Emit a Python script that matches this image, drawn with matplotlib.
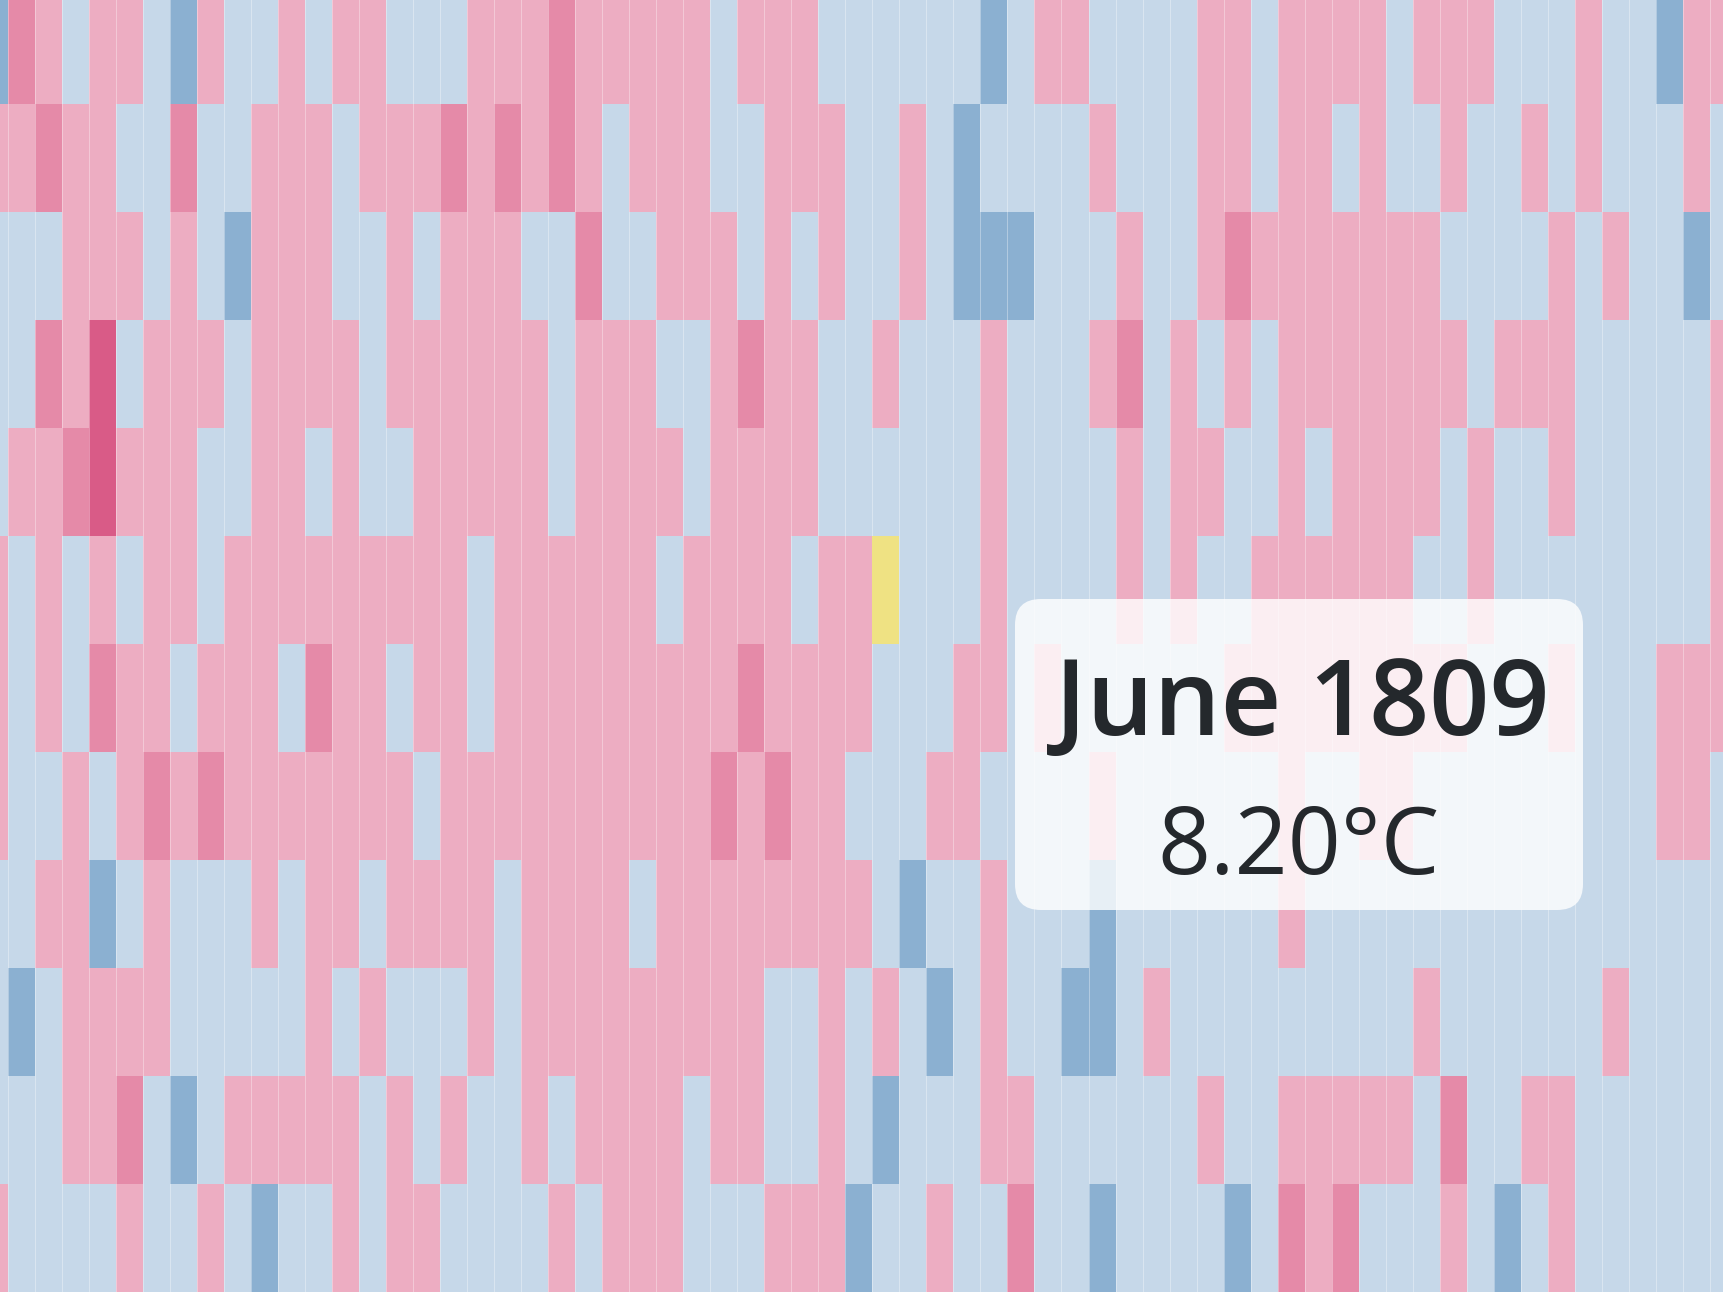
import numpy as np
import matplotlib
matplotlib.use("Agg")
import matplotlib.pyplot as plt
from matplotlib.colors import ListedColormap, BoundaryNorm
from matplotlib.patches import FancyBboxPatch, Rectangle

# ---------------- data ----------------
years = list(range(1776, 1841))          # visible columns (first/last partially cut)
months = ["January", "February", "March", "April", "May", "June",
          "July", "August", "September", "October", "November", "December"]

# anomaly class per year (B = much colder, b = colder, p = warmer, P = much warmer, D = extreme warm)
jan = "B" + "PpbppbBpbb" + "pbppbbbppp" + "Ppppppbppp" + "bb" + "bbbbBbppbb" + "bbppbppppb" + "pppbbbpbbB" + "pp"
feb = "p" + "pPppbbPbbp" + "ppbpppPpPp" + "Ppbpppbbpp" + "pb" + "bpbBbbbbpb" + "bbppbppbpb" + "bpbbpbpbbb" + "pb"
mar = "b" + "bbpppbpbBp" + "ppbbpbpppb" + "bPbbpppbpb" + "pb" + "bpbBBBbbbp" + "bbpPpppppp" + "pbbbbpbpbb" + "Bb"
apr = "b" + "bPpDbpppbp" + "pppbpppppp" + "bpppbbpPpp" + "bb" + "pbbbpbbbpP" + "bpbpbppppp" + "ppbpppbbbb" + "bp"
may = "b" + "ppPDpppbbp" + "pbpbbppppp" + "bppppbpppp" + "bb" + "bbbbpbbbbp" + "bppbbpbppp" + "pbpbbpbbbb" + "bp"
jun = "p" + "bpbpbppbpp" + "pppppppbpp" + "ppppbppppb" + "pp" + "bbbbpbbbbp" + "bpbbpppppp" + "bbpbbbbbbb" + "bp"
jul = "p" + "bpbPppbppp" + "bPppbppbpp" + "pppppppPpp" + "pp" + "bbbppbpbbb" + "bbbppppppp" + "ppbbbpbbbp" + "pp"
aug = "p" + "bbpbpPpPpp" + "pppppbpppp" + "ppppppPpPp" + "pb" + "bbppbbbbpb" + "bbbbbpbbpp" + "bbbbbbbbbp" + "pb"
sep = "b" + "bppBbpbbbp" + "bppbppppbp" + "pppbpppppp" + "pp" + "bBbbpbbbBb" + "bbbbbpbbbb" + "bbbbbbbbbb" + "bb"
oct_ = "b" + "Bbppppbbbb" + "bpbpbbbpbp" + "ppppppppbb" + "pb" + "pbBbpbbBBb" + "pbbbbbbbbb" + "pbbbbbbpbb" + "bb"
nov = "b" + "bbppPbBbpp" + "pppbpbpbbp" + "bppppbppbb" + "pb" + "Bbbbppbbbb" + "bbpbbppppp" + "bPbbppbbbb" + "bb"
dec = "p" + "bbbbpbbpbB" + "bbpbppbbbb" + "pbpppbbbpp" + "pB" + "bbpbbPbbBb" + "bbbBbPpPbb" + "bpbBbpbbbb" + "bb"

class_anomaly = {"B": -1.5, "b": -0.5, "p": 0.5, "P": 1.5, "D": 2.5}
class_bounds = [-2, -1, 0, 1, 2, 3]
class_colors = ["#8bb0d1", "#c6d8e9", "#edadc2", "#e58aa8", "#d95b87"]

hover_month = "June"
hover_year = 1809
hover_temp = 8.20
highlight_color = "#efe283"

rows = [jan, feb, mar, apr, may, jun, jul, aug, sep, oct_, nov, dec]
Z = np.array([[class_anomaly[c] for c in r] for r in rows])

# ---------------- plot ----------------
W, H = 1724, 1293
fig = plt.figure(figsize=(W / 100, H / 100), dpi=100)
ax = fig.add_axes([0, 0, 1, 1])

cmap = ListedColormap(class_colors)
norm = BoundaryNorm(class_bounds, cmap.N)
x_edges = np.arange(years[0] - 0.5, years[-1] + 1.0)
y_edges = np.arange(-0.5, len(months) + 0.5)
ax.pcolormesh(x_edges, y_edges, Z, cmap=cmap, norm=norm, shading="flat",
              edgecolors="none", antialiased=False)
ax.vlines(x_edges, -0.5, len(months) - 0.5, colors=(1, 1, 1, 0.35), linewidth=0.7)

# hovered cell
hy = hover_year
hm = months.index(hover_month)
ax.add_patch(Rectangle((hy - 0.5, hm - 0.5), 1, 1, facecolor=highlight_color,
                       edgecolor="none", zorder=3))

col_px = 27.02
x0 = years[0] + 0.5 - 7.7 / col_px
ax.set_xlim(x0, x0 + W / col_px)
row_px = 108.0
y0 = -0.5 + 4 / row_px
ax.set_ylim(y0 + H / row_px, y0)
ax.axis("off")

# tooltip overlay (pixel space)
ov = fig.add_axes([0, 0, 1, 1])
ov.set_xlim(0, W)
ov.set_ylim(H, 0)
ov.axis("off")
ov.patch.set_alpha(0)
bx0, bx1, by0, by1 = 1015, 1583, 599, 910
r = 26
ov.add_patch(FancyBboxPatch((bx0 + r, by0 + r), (bx1 - bx0) - 2 * r, (by1 - by0) - 2 * r,
                            boxstyle=f"round,pad={r}", facecolor="white", alpha=0.8,
                            edgecolor="none", zorder=5))
cx = (bx0 + bx1) / 2
ov.text(cx + 3, 735, f"{hover_month} {hover_year}", ha="center", va="baseline",
        fontsize=76, fontweight="semibold", family=["Open Sans", "DejaVu Sans"],
        color="#24282c", zorder=6)
ov.text(cx, 874, f"{hover_temp:.2f}°C", ha="center", va="baseline",
        fontsize=67, fontweight="normal", family=["Open Sans", "DejaVu Sans"],
        color="#24282c", zorder=6)

fig.savefig("out.png", dpi=100)
